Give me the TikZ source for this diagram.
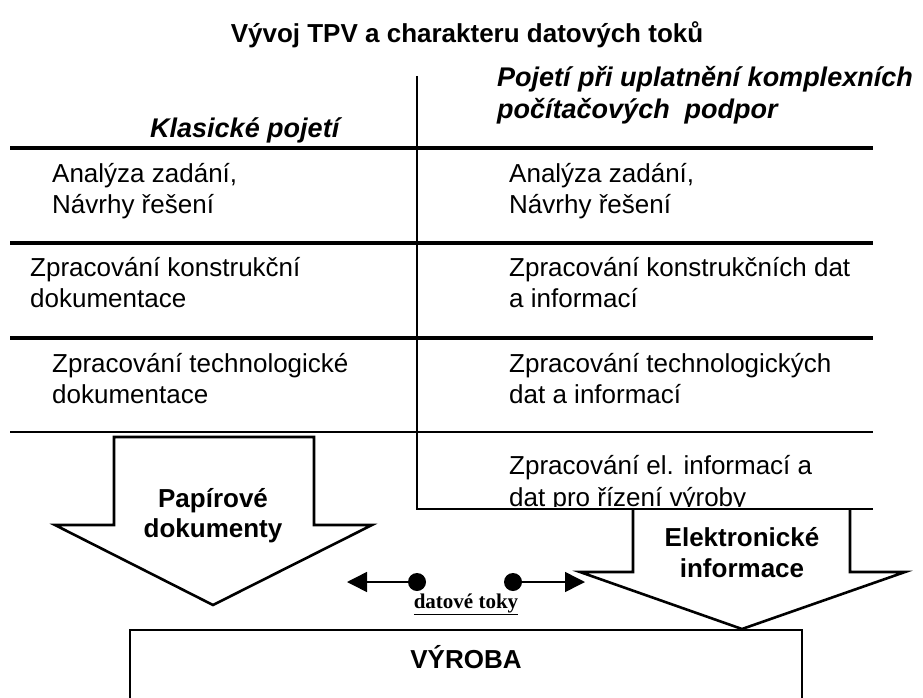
\documentclass[tikz,border=0pt]{standalone}
\usepackage{fontspec}
\setmainfont{Liberation Sans}
\newfontfamily\serifb{Liberation Serif}
\usetikzlibrary{arrows.meta}
\begin{document}
\begin{tikzpicture}[x=1pt,y=-1pt,
  txt/.style={inner sep=0pt, anchor=base west, font=\fontsize{26}{31}\selectfont},
  ctxt/.style={inner sep=0pt, anchor=base, font=\fontsize{26}{31}\selectfont\bfseries},
  head/.style={inner sep=0pt, anchor=base west, font=\fontsize{27}{31}\selectfont\bfseries\itshape},
  rowline/.style={line width=3.5pt},
  thinrow/.style={line width=2.8pt},
  frame/.style={line width=2.6pt},
  bigarrow/.style={line width=2.6pt, line join=miter},
  dot/.style={circle, fill=black, inner sep=0pt, minimum size=18pt},
  flow/.style={line width=1.5pt, -{Triangle[length=20pt,width=20pt]}}]
\useasboundingbox (0,0) rectangle (923,698);
\clip (0,0) rectangle (923,698);

% title
\node[ctxt, anchor=base] (title) at (467,43) {Vývoj TPV a charakteru datových toků};

% headers
\node[head] (hl) at (150,137) {Klasické pojetí};
\node[head] (hr1) at (497,87) {Pojetí při uplatnění komplexních};
\node[head] (hr2) at (497,119) {počítačových\ \ podpor};

% grid
\draw[rowline] (10,148) -- (873,148);
\draw[rowline] (10,243) -- (873,243);
\draw[rowline] (10,338) -- (873,338);
\draw[thinrow] (10,432) -- (873,432);
\draw[frame] (417,76) -- (417,509) -- (873,509);

% row 1
\node[txt] (l1a) at (52,182) {Analýza zadání,};
\node[txt] (l1b) at (52,213) {Návrhy řešení};
\node[txt] (r1a) at (509,182) {Analýza zadání,};
\node[txt] (r1b) at (509,213) {Návrhy řešení};
% row 2
\node[txt] (l2a) at (30,276) {Zpracování konstrukční};
\node[txt] (l2b) at (30,307) {dokumentace};
\node[txt] (r2a) at (509,276) {Zpracování konstrukčních dat};
\node[txt] (r2b) at (509,307) {a informací};
% row 3
\node[txt] (l3a) at (52,372) {Zpracování technologické};
\node[txt] (l3b) at (52,403) {dokumentace};
\node[txt] (r3a) at (509,372) {Zpracování technologických};
\node[txt] (r3b) at (509,403) {dat a informací};
% row 4 (clipped)
\begin{scope}
\clip (419,434) rectangle (871,506);
\node[txt] (r4a) at (509,474) {Zpracování el. informací a};
\node[txt] (r4b) at (509,506) {dat pro řízení výroby};
\end{scope}

% paper arrow
\draw[bigarrow, fill=white] (114,437) -- (314,437) -- (314,525) -- (372,525) -- (213,605)
   -- (55,525) -- (114,525) -- cycle;
\node[ctxt] (pa1) at (213,507) {Papírové};
\node[ctxt] (pa2) at (213,537) {dokumenty};

% electronic arrow
\draw[bigarrow, fill=white] (633,510) -- (633,572) -- (580,572) -- (742,629) -- (905,572)
   -- (850,572) -- (850,510);
\node[ctxt] (el1) at (742,546) {Elektronické};
\node[ctxt] (el2) at (742,577) {informace};

% production box
\draw[frame] (130,720) -- (130,630) -- (802,630) -- (802,720);
\node[ctxt] (vyroba) at (466,668) {VÝROBA};

% data flows
\node[dot] (d1) at (417,582) {};
\node[dot] (d2) at (513,582) {};
\coordinate (t1) at (347,582);
\coordinate (t2) at (585,582);
\draw[flow] (d1) -- (t1);
\draw[flow] (d2) -- (t2);
\node[inner sep=0pt, anchor=base, font=\serifb\fontsize{21}{24}\selectfont\bfseries] (dt) at (466,608) {\underline{datové toky}};
\end{tikzpicture}
\end{document}
